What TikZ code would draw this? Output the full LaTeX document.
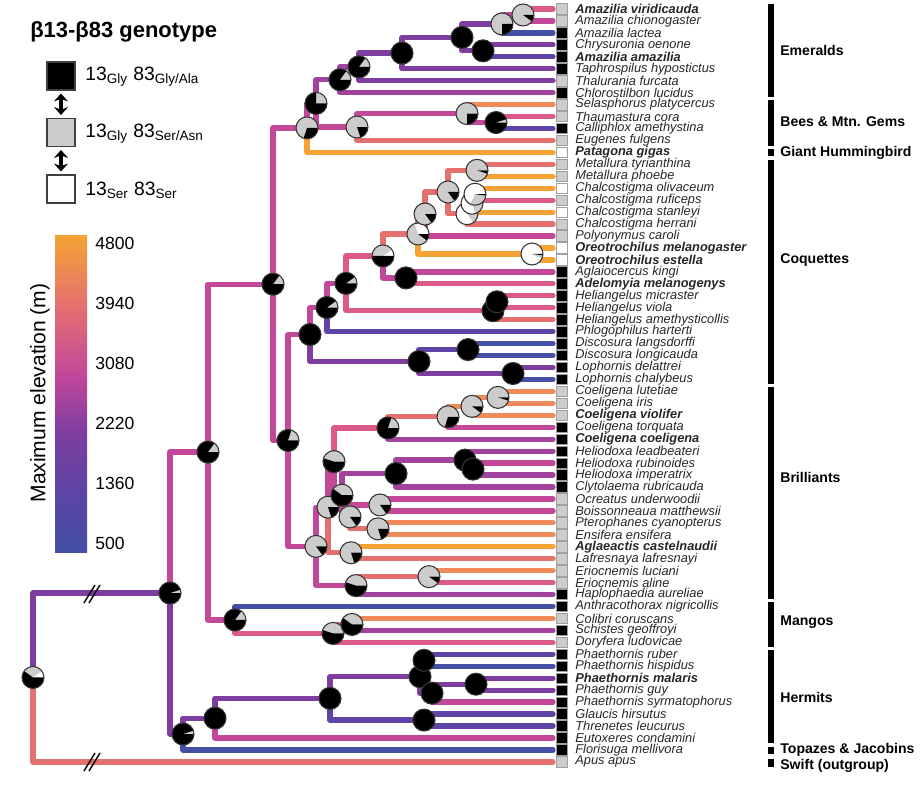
\documentclass[tikz,border=0pt]{standalone}
\usepackage{fontspec}
\setmainfont{Liberation Sans}
\usetikzlibrary{arrows.meta}
\definecolor{cA}{HTML}{4450A6}
\definecolor{cB}{HTML}{5E44A4}
\definecolor{cC}{HTML}{7E3E9F}
\definecolor{cD}{HTML}{A2439E}
\definecolor{cE}{HTML}{C3489A}
\definecolor{cF}{HTML}{DB5A8A}
\definecolor{cG}{HTML}{E5716F}
\definecolor{cH}{HTML}{EF8A5A}
\definecolor{cI}{HTML}{F4A334}
\pgfdeclareverticalshading{elevbar}{100bp}{color(0bp)=(cA); color(25bp)=(cA);
  color(35bp)=(cB); color(44bp)=(cC); color(53bp)=(cE); color(64bp)=(cG);
  color(75bp)=(cI); color(100bp)=(cI)}
\begin{document}
\begin{tikzpicture}[x=0.02cm, y=-0.02cm,
  edge/.style={line width=3pt, line cap=round, line join=round},
  gsq/.style={draw=gray!75, line width=0.4pt, minimum size=0.21cm, inner sep=0pt},
  tx/.style={anchor=west, inner sep=0pt, font=\fontsize{7.3}{8}\selectfont\itshape, text=black!85},
  txb/.style={tx, font=\fontsize{7.3}{8}\selectfont\bfseries\itshape},
  clade/.style={anchor=west, inner sep=0pt, font=\fontsize{8}{9}\selectfont\bfseries},
  lgsq/.style={draw=gray!50!black, line width=1pt, minimum size=0.56cm, inner sep=0pt},
  lgtx/.style={anchor=west, inner sep=0pt, font=\fontsize{11}{13}\selectfont},
  swap/.style={line width=2pt, {Stealth[length=4.5pt,width=8pt]}-{Stealth[length=4.5pt,width=8pt]},
    shorten <=1.5pt, shorten >=1.5pt}]
  \useasboundingbox (0,0) rectangle (922,788);

  % legend: genotypes
  \node[anchor=west, inner sep=0pt, font=\fontsize{12.5}{14}\selectfont\bfseries] (ttl)
    at (30,32) {β13-β83 genotype};
  \node[lgsq, fill=black] (lgA) at (61,76) {};
  \node[lgsq, fill=gray!40] (lgB) at (61,132.5) {};
  \node[lgsq, fill=white] (lgC) at (61,189) {};
  \node[lgtx] (lgAt) at (85,77) {13\textsubscript{Gly} 83\textsubscript{Gly/Ala}};
  \node[lgtx] (lgBt) at (85,133.5) {13\textsubscript{Gly} 83\textsubscript{Ser/Asn}};
  \node[lgtx] (lgCt) at (85,190) {13\textsubscript{Ser} 83\textsubscript{Ser}};
  \draw[swap] (lgA) -- (lgB);
  \draw[swap] (lgB) -- (lgC);

  % legend: elevation scale
  \shade[shading=elevbar] (55,235) rectangle (87,552);
  \node[rotate=90, inner sep=0pt, font=\fontsize{12}{14}\selectfont] (cbl) at (40,393)
    {Maximum elevation (m)};
  \foreach \v [count=\k] in {4800,3940,3080,2220,1360,500}{
    \node[anchor=west, inner sep=0pt, font=\fontsize{10}{12}\selectfont] (lb\k)
      at (95,{243+60*(\k-1)}) {\v};
  }

  % tips
  \foreach \i/\nm/\gt/\st in {1/Amazilia viridicauda/gray!40/txb,
    2/Amazilia chionogaster/gray!40/tx, 3/Amazilia lactea/black/tx,
    4/Chrysuronia oenone/black/tx, 5/Amazilia amazilia/black/txb,
    6/Taphrospilus hypostictus/black/tx, 7/Thalurania furcata/gray!40/tx,
    8/Chlorostilbon lucidus/black/tx, 9/Selasphorus platycercus/gray!40/tx,
    10/Thaumastura cora/gray!40/tx, 11/Calliphlox amethystina/black/tx,
    12/Eugenes fulgens/gray!40/tx, 13/Patagona gigas/white/txb,
    14/Metallura tyrianthina/gray!40/tx, 15/Metallura phoebe/gray!40/tx,
    16/Chalcostigma olivaceum/white/tx, 17/Chalcostigma ruficeps/gray!40/tx,
    18/Chalcostigma stanleyi/white/tx, 19/Chalcostigma herrani/gray!40/tx,
    20/Polyonymus caroli/gray!40/tx, 21/Oreotrochilus melanogaster/white/txb,
    22/Oreotrochilus estella/white/txb, 23/Aglaiocercus kingi/black/tx,
    24/Adelomyia melanogenys/black/txb, 25/Heliangelus micraster/black/tx,
    26/Heliangelus viola/black/tx, 27/Heliangelus amethysticollis/black/tx,
    28/Phlogophilus harterti/black/tx, 29/Discosura langsdorffi/black/tx,
    30/Discosura longicauda/black/tx, 31/Lophornis delattrei/black/tx,
    32/Lophornis chalybeus/black/tx, 33/Coeligena lutetiae/gray!40/tx,
    34/Coeligena iris/gray!40/tx, 35/Coeligena violifer/gray!40/txb,
    36/Coeligena torquata/black/tx, 37/Coeligena coeligena/black/txb,
    38/Heliodoxa leadbeateri/black/tx, 39/Heliodoxa rubinoides/black/tx,
    40/Heliodoxa imperatrix/black/tx, 41/Clytolaema rubricauda/black/tx,
    42/Ocreatus underwoodii/gray!40/tx, 43/Boissonneaua matthewsii/gray!40/tx,
    44/Pterophanes cyanopterus/gray!40/tx, 45/Ensifera ensifera/gray!40/tx,
    46/Aglaeactis castelnaudii/gray!40/txb, 47/Lafresnaya lafresnayi/gray!40/tx,
    48/Eriocnemis luciani/gray!40/tx, 49/Eriocnemis aline/gray!40/tx,
    50/Haplophaedia aureliae/black/tx, 51/Anthracothorax nigricollis/black/tx,
    52/Colibri coruscans/gray!40/tx, 53/Schistes geoffroyi/black/tx,
    54/Doryfera ludovicae/gray!40/tx, 55/Phaethornis ruber/black/tx,
    56/Phaethornis hispidus/black/tx, 57/Phaethornis malaris/black/txb,
    58/Phaethornis guy/black/tx, 59/Phaethornis syrmatophorus/black/tx,
    60/Glaucis hirsutus/black/tx, 61/Threnetes leucurus/black/tx,
    62/Eutoxeres condamini/black/tx, 63/Florisuga mellivora/black/tx,
    64/Apus apus/gray!40/tx}{
    \pgfmathsetmacro{\ty}{9+11.95*(\i-1)}
    \coordinate (t\i) at (553,\ty);
    \node[gsq, fill=\gt] (q\i) at (562,\ty) {};
    \node[\st] (n\i) at (575,\ty) {\nm};
  }

  % internal nodes
  \foreach \nd/\nx/\ny in {r0/33/677.45, h0/170/593.05, core/208/452.07,
    hq/183/734.03, hm/215/718.16, hp/330/698.37, ph/420/676.71, pa/424/660.28,
    pb/432/693.14, pe/476/684.18, gt/424/720.03, mg/235/619.95, mc/333/633.39,
    md/352/624.43, tro/273/284.18, eb/307/127.9, eq/316/103.39, ee/340/79.77,
    e7/359/66.88, e6/402/53.07, e5/462/37.38, e3/502/23.94, e1/523/14.98,
    e4/483/50.83, bb/357/127.0, bc/467/113.56, bd/496/122.53, cb/288/440.45,
    cq/310/334.52, cr/327/307.5, cs/346/283.34, ct/383/255.94, cu/418/234.0,
    cv/425/214.02, cw/448/191.99, mt/477/170.33, ch/467/213.65, ci/472/203.19,
    cj/475/194.23, ot/532/253.98, ag/406/277.88, hl/493/310.74, hk/497/301.78,
    dl/419/361.53, ds/468/349.58, lo/513/373.48, br/316/546.38, bx/328/507.17,
    by/334/461.61, co/388/428.0, cp/448/416.8, cn/472/406.34, ck/498/397.38,
    bz/342/495.22, hx/396/473.56, hd/465/460.12, he/473/469.08, ob/350/516.88,
    oc/380/504.93, ps/378/528.83, al/351/552.73, ey/356/585.59, er/429/576.63}{
    \coordinate (\nd) at (\nx,\ny);
  }

  % branches, coloured by maximum elevation
  \foreach \pa/\ch/\cl in {r0/h0/cC, r0/t64/cG, h0/core/cE, h0/hq/cC,
    hq/hm/cC, hq/t63/cA, hm/hp/cC, hm/t62/cE, hp/ph/cC, hp/gt/cB,
    ph/pa/cB, ph/pb/cC, pa/t55/cB, pa/t56/cA, pb/pe/cC, pb/t59/cE,
    pe/t57/cC, pe/t58/cC, gt/t60/cB, gt/t61/cB,
    core/tro/cE, core/mg/cE, mg/t51/cA, mg/mc/cF, mc/md/cF, mc/t54/cF,
    md/t52/cH, md/t53/cD,
    tro/eb/cE, tro/cb/cE, eb/eq/cE, eb/t13/cI, eq/ee/cD, eq/bb/cE,
    ee/e7/cD, ee/t8/cD, e7/e6/cC, e7/t7/cC, e6/e5/cC, e6/t6/cC,
    e5/e3/cC, e5/e4/cC, e3/e1/cE, e3/t3/cA, e1/t1/cF, e1/t2/cE,
    e4/t4/cC, e4/t5/cB, bb/bc/cE, bb/t12/cG, bc/t9/cH, bc/bd/cE,
    bd/t10/cF, bd/t11/cB,
    cb/cq/cE, cb/br/cE, cq/cr/cE, cq/dl/cC, cr/cs/cE, cr/t28/cB,
    cs/ct/cF, cs/hl/cF, ct/cu/cG, ct/ag/cE, cu/cv/cG, cu/ot/cI,
    cv/cw/cG, cv/t20/cE, cw/mt/cG, cw/ch/cG, mt/t14/cG, mt/t15/cI,
    ch/ci/cH, ch/t19/cG, ci/cj/cH, ci/t18/cI, cj/t16/cI, cj/t17/cF,
    ot/t21/cI, ot/t22/cI, ag/t23/cE, ag/t24/cF, hl/hk/cF, hl/t27/cG,
    hk/t25/cF, hk/t26/cF, dl/ds/cB, dl/lo/cC, ds/t29/cA, ds/t30/cA,
    lo/t31/cC, lo/t32/cA,
    br/bx/cE, br/ey/cE, bx/by/cE, bx/al/cG, by/co/cF, by/bz/cE,
    co/cp/cG, co/t37/cD, cp/cn/cH, cp/t36/cE, cn/ck/cH, cn/t35/cH,
    ck/t33/cH, ck/t34/cH, bz/hx/cD, bz/ob/cE, hx/hd/cD, hx/t41/cD,
    hd/t38/cD, hd/he/cD, he/t39/cE, he/t40/cD, ob/oc/cE, ob/ps/cG,
    oc/t42/cE, oc/t43/cE, ps/t44/cH, ps/t45/cH, al/t46/cI, al/t47/cG,
    ey/er/cG, ey/t50/cD, er/t48/cH, er/t49/cF}{
    \draw[edge, \cl] (\pa) |- (\ch);
  }

  % breaks on the two root branches
  \draw[line width=0.8pt] (84,603) -- (95,585) (89,603) -- (100,585);
  \draw[line width=0.8pt] (84,771) -- (95,753) (89,771) -- (100,753);

  % ancestral genotype pies (black, grey, rest white)
  \foreach \nd/\pb/\pg in {r0/.6/.3, h0/.95/.05, core/.85/.15, hq/.95/.05,
    hm/1/0, hp/1/0, ph/1/0, pa/1/0, pb/1/0, pe/1/0, gt/1/0,
    mg/.85/.15, mc/.55/.45, md/.6/.4,
    tro/.85/.15, eb/.3/.7, eq/.75/.25, ee/.85/.15, e7/.85/.15, e6/1/0,
    e5/1/0, e3/.25/.75, e1/.1/.9, e4/1/0, bb/.2/.8, bc/.25/.75, bd/.95/.05,
    cb/.8/.2, cq/1/0, cr/.9/.1, cs/.9/.1, ct/.5/.4, cu/.1/.6, cv/.15/.85,
    cw/.15/.85, mt/.05/.95, ch/0/.15, ci/0/.2, cj/.02/.3, ot/.02/.05,
    ag/1/0, hl/1/0, hk/1/0, dl/1/0, ds/1/0, lo/1/0,
    br/.15/.85, bx/.2/.8, by/.55/.45, co/.8/.2, cp/.3/.7, cn/.1/.9,
    ck/.05/.95, bz/.6/.4, hx/1/0, hd/1/0, he/1/0, ob/.15/.85, oc/.15/.85,
    ps/.2/.8, al/.2/.8, ey/.55/.45, er/.1/.9}{
    \pgfmathsetmacro{\ab}{360*\pb}
    \pgfmathsetmacro{\ag}{360*(\pb+\pg)}
    \fill[white] (\nd) circle (11);
    \fill[gray!40] (\nd) -- ++(\ab:11) arc[start angle=\ab, end angle=\ag, radius=11] -- cycle;
    \fill[black] (\nd) -- ++(0:11) arc[start angle=0, end angle=\ab, radius=11] -- cycle;
    \draw[gray!40!black, line width=0.6pt] (\nd) circle (11);
  }

  % clade bars
  \foreach \k/\lab/\ya/\yb/\ly in {1/Emeralds/4/97/50, 2/Bees \& Mtn. Gems/100/146/122,
    3/Giant Hummingbird/149/156/153, 4/Coquettes/160/384/260,
    5/Brilliants/387/599/477, 6/Mangos/602/647/622, 7/Hermits/650/743/697,
    8/Topazes \& Jacobins/747/754/750, 9/Swift (outgroup)/759/767/766}{
    \fill (768,\ya) rectangle (774,\yb);
    \node[clade] (cl\k) at (780,\ly) {\lab};
  }
\end{tikzpicture}
\end{document}
